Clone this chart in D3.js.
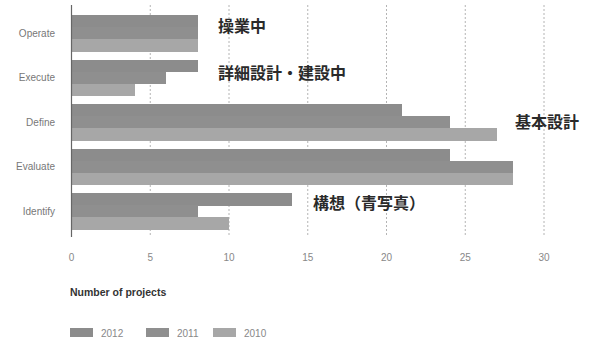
<!DOCTYPE html>
<html>
<head>
<meta charset="utf-8">
<script src="https://cdn.jsdelivr.net/npm/d3@7"></script>
<style>
  body { margin: 0; background: #fff; }
  svg { display: block; }
</style>
</head>
<body>
<svg id="chart" width="593" height="347"></svg>
<script>
// Project counts by stage, one array per year
const stages = ["Operate", "Execute", "Define", "Evaluate", "Identify"];
const years = ["2012", "2011", "2010"];
const values2012 = [8, 8, 21, 24, 14];
const values2011 = [8, 6, 24, 28, 8];
const values2010 = [8, 4, 27, 28, 10];
const xTicks = [0, 5, 10, 15, 20, 25, 30];
const stageLabelsJa = ["操業中", "詳細設計・建設中", "基本設計", "構想（青写真）"];

const seriesByYear = { "2012": values2012, "2011": values2011, "2010": values2010 };
const colors = { "2012": "#8c8c8c", "2011": "#8f8f8f", "2010": "#a7a7a7" };

const svg = d3.select("#chart");
const font = "'Liberation Sans', Arial, sans-serif";

const x = d3.scaleLinear().domain([0, 30]).range([71.5, 544]);
const y = d3.scaleBand().domain(stages).range([11, 233.5]).paddingInner(0.18).paddingOuter(0.09);
const ySub = d3.scaleBand().domain(years).range([0, y.bandwidth()]);

const gridTop = 5, gridBottom = 237;

// dashed gridlines
svg.append("g")
  .selectAll("line")
  .data(xTicks.filter(d => d > 0))
  .join("line")
  .attr("x1", d => x(d)).attr("x2", d => x(d))
  .attr("y1", gridTop).attr("y2", gridBottom)
  .attr("stroke", "#b4b4b4")
  .attr("stroke-width", 1)
  .attr("stroke-dasharray", "2,2");

// bars
const groups = svg.append("g")
  .selectAll("g")
  .data(stages)
  .join("g")
  .attr("transform", d => `translate(0,${y(d)})`);

groups.selectAll("rect")
  .data((s, i) => years.map(yr => ({ yr, v: seriesByYear[yr][i] })))
  .join("rect")
  .attr("x", x(0))
  .attr("y", d => ySub(d.yr))
  .attr("width", d => x(d.v) - x(0))
  .attr("height", ySub.bandwidth() + 0.5)
  .attr("shape-rendering", "crispEdges")
  .attr("fill", d => colors[d.yr]);

// zero line
svg.append("line")
  .attr("x1", x(0)).attr("x2", x(0))
  .attr("y1", gridTop).attr("y2", gridBottom)
  .attr("stroke", "#666").attr("stroke-width", 1.2);

// category labels
svg.append("g")
  .selectAll("text")
  .data(stages)
  .join("text")
  .attr("x", 55)
  .attr("y", d => y(d) + y.bandwidth() / 2)
  .attr("dy", "0.35em")
  .attr("text-anchor", "end")
  .attr("font-family", font)
  .attr("font-size", 10)
  .attr("fill", "#777")
  .text(d => d);

// x tick labels
svg.append("g")
  .selectAll("text")
  .data(xTicks)
  .join("text")
  .attr("x", d => x(d))
  .attr("y", 261)
  .attr("text-anchor", "middle")
  .attr("font-family", font)
  .attr("font-size", 10)
  .attr("fill", "#888")
  .text(d => d);

// axis title
svg.append("text")
  .attr("x", 70).attr("y", 296)
  .attr("font-family", font)
  .attr("font-size", 10.5)
  .attr("font-weight", "bold")
  .attr("fill", "#333")
  .text("Number of projects");

// legend
const legendX = [70, 146, 213];
const legend = svg.append("g")
  .selectAll("g")
  .data(years)
  .join("g")
  .attr("transform", (d, i) => `translate(${legendX[i]},328)`);
legend.append("rect")
  .attr("width", 23).attr("height", 9)
  .attr("fill", d => colors[d]);
legend.append("text")
  .attr("x", 31).attr("y", 8.5)
  .attr("font-family", font)
  .attr("font-size", 10)
  .attr("fill", "#888")
  .text(d => d);

// Japanese stage annotations
const jaPos = [
  { x: 218, y: 26, t: stageLabelsJa[0] },
  { x: 218, y: 73, t: stageLabelsJa[1] },
  { x: 515, y: 122, t: stageLabelsJa[2] },
  { x: 313, y: 203, t: stageLabelsJa[3] }
];
svg.append("g")
  .selectAll("text")
  .data(jaPos)
  .join("text")
  .attr("x", d => d.x)
  .attr("y", d => d.y)
  .attr("dy", "0.36em")
  .attr("font-family", "'Noto Sans CJK JP', sans-serif")
  .attr("font-size", 16)
  .attr("font-weight", "bold")
  .attr("fill", "#2a2a2a")
  .text(d => d.t);
</script>
</body>
</html>
